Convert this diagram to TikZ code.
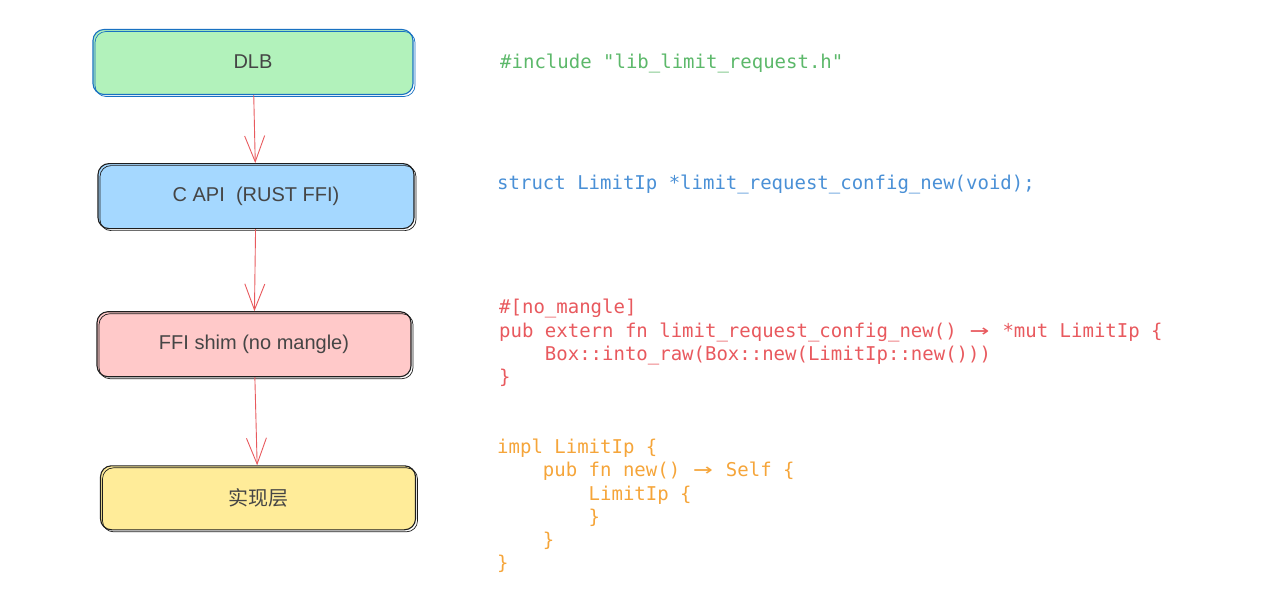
\documentclass[tikz,border=0pt]{standalone}
\usepackage{fontspec}
\usepackage{graphicx}
\setmainfont{Liberation Sans}
\newfontfamily\codefont{DejaVu Sans Mono}
\newfontfamily\cjkfont{Noto Sans CJK SC}
\usepackage{tikz}
\usetikzlibrary{positioning}
\usetikzlibrary{arrows.meta}
\definecolor{dlbfill}{HTML}{B2F2BB}
\definecolor{capifill}{HTML}{A5D8FF}
\definecolor{shimfill}{HTML}{FFC9C9}
\definecolor{implfill}{HTML}{FFEC99}
\definecolor{strokeblue}{HTML}{1971C2}
\definecolor{strokeblack}{HTML}{1E1E1E}
\definecolor{labelgray}{HTML}{454545}
\definecolor{arrowred}{HTML}{E85A5E}
\definecolor{codegreen}{HTML}{5CB86A}
\definecolor{codeblue}{HTML}{4A90D6}
\definecolor{codered}{HTML}{E8595E}
\definecolor{codeorange}{HTML}{F5A53A}
\tikzstyle{layer} = [rectangle,rounded corners=11pt,draw=strokeblack,line width=1.1pt,minimum width=316pt,minimum height=65pt,inner sep=0pt,font=\fontsize{20}{24}\selectfont,text=labelgray,postaction={draw,line width=0.7pt,transform canvas={shift={(2pt,-2pt)}}}]
\tikzstyle{code} = [anchor=west,align=left,inner sep=0pt,font=\codefont\fontsize{19}{23.3}\selectfont]
\newcommand{\CodeIndent}{\hphantom{0000}}
\newcommand{\CodeArrow}{\makebox[2\fontcharwd\font`\0][c]{\scalebox{1.7}[1.15]{→}}}

\begin{document}
\begin{tikzpicture}[x=1pt,y=-1pt,node distance=68pt]
	\useasboundingbox (0,0) rectangle (1280,592);
	
	\tikzstyle{flow}=[draw=arrowred,line width=0.9pt,-{Straight Barb[length=26pt,width=20pt]}];
	
	\node (dlb) [layer,fill=dlbfill,draw=strokeblue,minimum width=320pt] at (253,62) {DLB};
	\node (capi) [layer,fill=capifill,below=of dlb,xshift=3pt] {C API\ \ (RUST FFI)};
	\node (shim) [layer,fill=shimfill,below=of capi,yshift=-14pt,xshift=-2pt,minimum width=314pt] {FFI shim (no mangle)};
	\node (impl) [layer,fill=implfill,below=of shim,yshift=-20pt,xshift=4pt,minimum width=315pt,minimum height=64pt] {\cjkfont 实现层};
	
	\node (inc) [code,text=codegreen] at (500,63) {\#include "lib\_limit\_request.h"};
	\node (decl) [code,text=codeblue] at (497,184) {struct LimitIp *limit\_request\_config\_new(void);};
	\node (ffi) [code,text=codered] at (499,343) {\#[no\_mangle]\\
		pub extern fn limit\_request\_config\_new() \CodeArrow{} *mut LimitIp \{\\
		\CodeIndent Box::into\_raw(Box::new(LimitIp::new()))\\
		\}};
	\node (body) [code,text=codeorange] at (497,506) {impl LimitIp \{\\
		\CodeIndent pub fn new() \CodeArrow{} Self \{\\
		\CodeIndent\CodeIndent LimitIp \{\\
		\CodeIndent\CodeIndent \}\\
		\CodeIndent \}\\
		\}};
	
	\path[flow]
		(dlb) edge (capi)
		(capi) edge (shim)
		(shim) edge (impl);
\end{tikzpicture}
\end{document}
